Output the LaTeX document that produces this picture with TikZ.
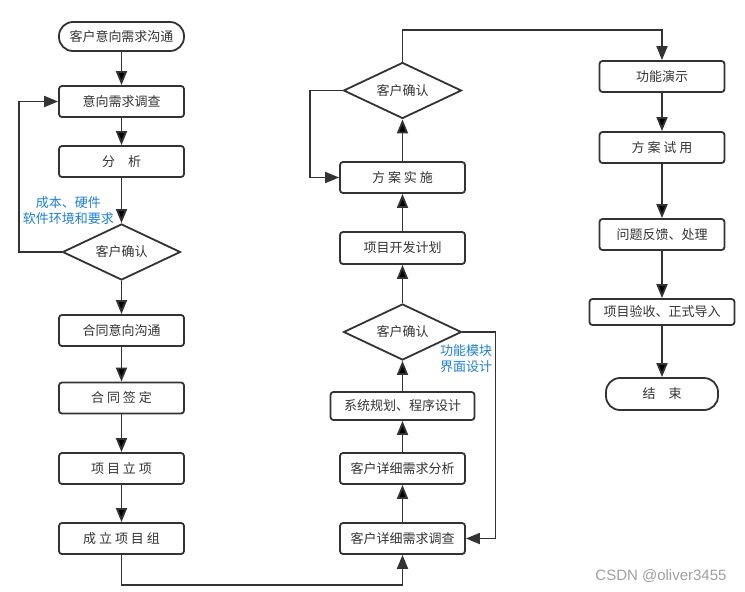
\documentclass[tikz,border=0pt]{standalone}
\usepackage{fontspec}
\setmainfont{Noto Sans CJK SC}
\newfontfamily\markfont{Liberation Sans}
\usetikzlibrary{arrows.meta,shapes.geometric}
\definecolor{ink}{HTML}{333333}
\definecolor{note}{HTML}{1A7FE0}

\begin{document}
\begin{tikzpicture}[x=1pt,y=-1pt,
  every node/.style={text=ink,font=\fontsize{13}{16}\selectfont},
  box/.style={draw=ink,line width=1.8pt,rounded corners=3pt,minimum width=125pt,minimum height=31pt,inner sep=0pt},
  term/.style={box,rounded corners=14pt},
  ask/.style={draw=ink,line width=1.8pt,diamond,aspect=2.1,minimum width=118pt,minimum height=56pt,inner sep=0pt},
  line/.style={draw=ink,line width=1.8pt},
  >={Triangle[length=14pt,width=11pt]}]
  \useasboundingbox (0,0) rectangle (745,592);

  % left column
  \node[term,minimum height=29pt] (start) at (121.5,36.5) {客户意向需求沟通};
  \node[box] (survey) at (121.5,101.5) {意向需求调查};
  \node[box] (anal) at (121.5,161.5) {分\hspace{1em}析};
  \node[ask] (ok1) at (121.5,252) {客户确认};
  \node[box] (talk) at (121.5,330.5) {合同意向沟通};
  \node[box] (sign) at (121.5,398) {合 同 签 定};
  \node[box] (setup) at (121.5,468.5) {项 目 立 项};
  \node[box] (team) at (121.5,538.5) {成 立 项 目 组};

  % middle column
  \node[box] (dsurvey) at (402.5,538.5) {客户详细需求调查};
  \node[box] (danal) at (402.5,468.5) {客户详细需求分析};
  \node[box,minimum width=144pt,minimum height=28pt] (plan) at (402.5,406) {系统规划、程序设计};
  \node[ask] (ok2) at (402.5,332) {客户确认};
  \node[box,minimum height=32pt] (devplan) at (402.5,248) {项目开发计划};
  \node[box] (impl) at (402.5,177.5) {方 案 实 施};
  \node[ask] (ok3) at (402.5,90.5) {客户确认};

  % right column
  \node[box] (demo) at (662,76.5) {功能演示};
  \node[box] (trial) at (662,147.5) {方 案 试 用};
  \node[box] (fix) at (662,234.5) {问题反馈、处理};
  \node[box,minimum width=145pt,minimum height=26pt] (accept) at (662,312) {项目验收、正式导入};
  \node[term,minimum width=112pt,minimum height=32pt] (stop) at (662,394) {结\hspace{1em}束};

  % notes
  \node[text=note,align=center] (costnote) at (68.5,211) {成本、硬件\\软件环境和要求};
  \node[text=note,align=left] (funcnote) at (466,359) {功能模块\\界面设计};
  \node[text=gray!75,font=\markfont\fontsize{15}{17}\selectfont] (mark) at (661,576) {CSDN @oliver3455};

  \path[line,->]
  (start) edge (survey)
  (survey) edge (anal)
  (anal) edge (ok1)
  (ok1) edge (talk)
  (talk) edge (sign)
  (sign) edge (setup)
  (setup) edge (team)
  (dsurvey) edge (danal)
  (danal) edge (plan)
  (plan) edge (ok2)
  (ok2) edge (devplan)
  (devplan) edge (impl)
  (impl) edge (ok3)
  (demo) edge (trial)
  (trial) edge (fix)
  (fix) edge (accept)
  (accept) edge (stop);

  \draw[line,->] (ok1.west) -- ++(-43,0) |- (survey.west);
  \draw[line,->] (team.south) -- ++(0,30) -| (dsurvey.south);
  \draw[line,->] (ok2.east) -- ++(33,0) |- (dsurvey.east);
  \draw[line,->] (ok3.west) -- ++(-33,0) |- (impl.west);
  \draw[line,->] (ok3.north) -- ++(0,-32) -| (demo.north);
\end{tikzpicture}
\end{document}
